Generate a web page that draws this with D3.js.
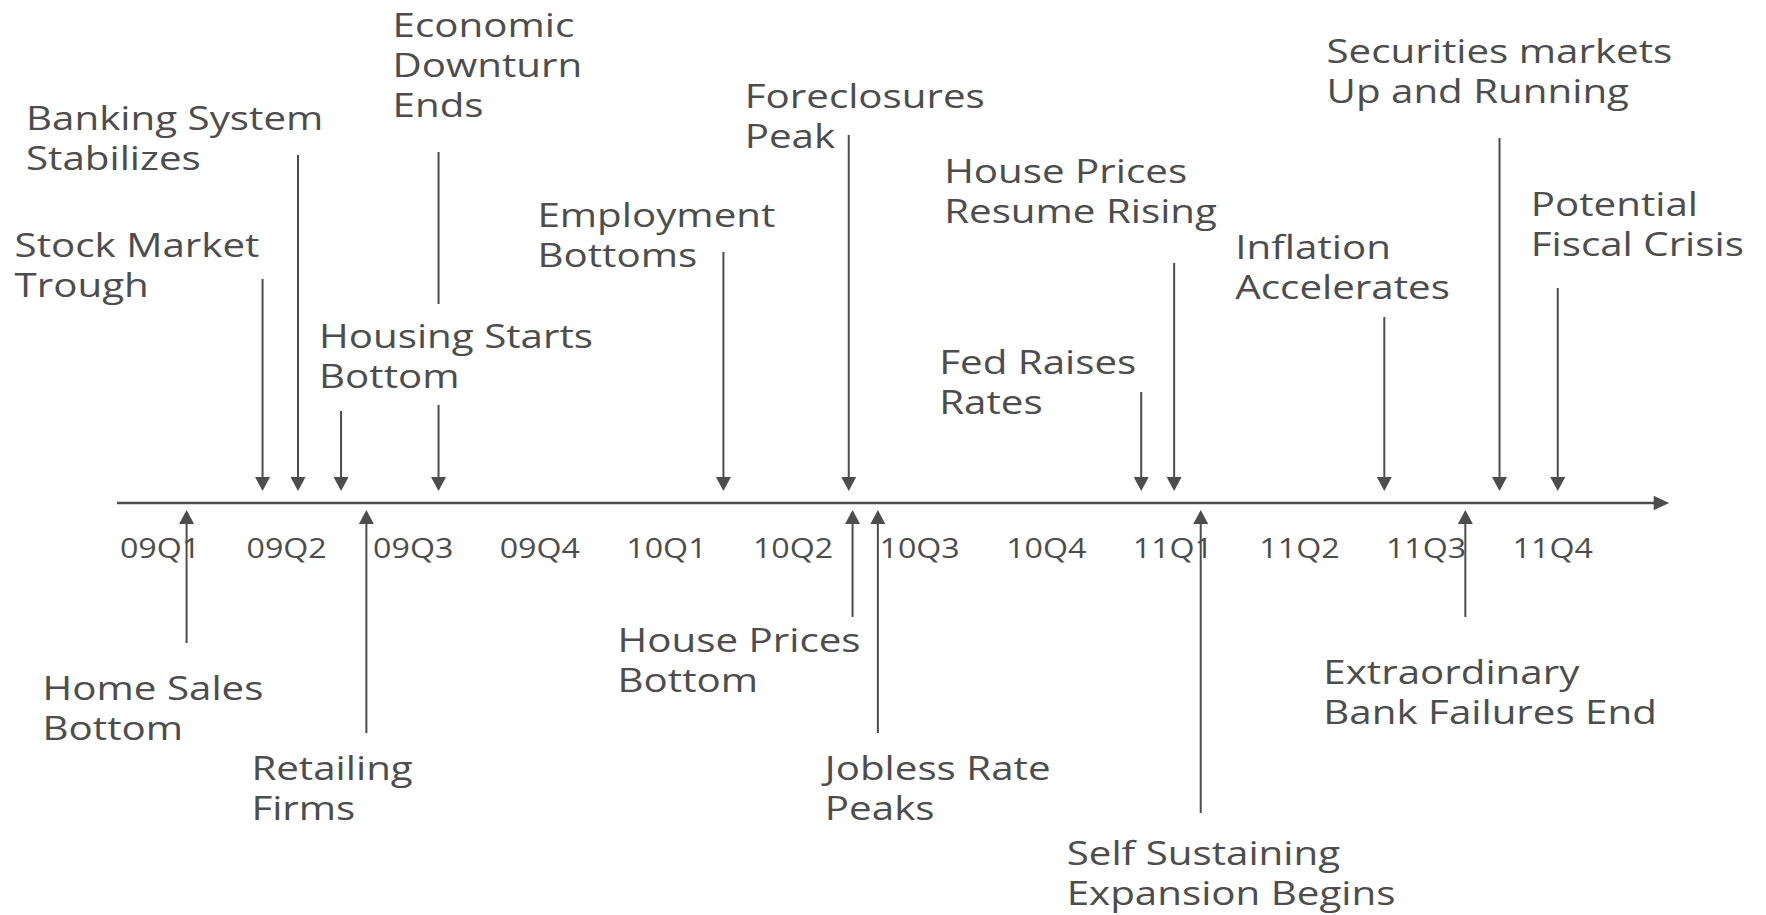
<!DOCTYPE html>
<html>
<head>
<meta charset="utf-8">
<script src="https://cdn.jsdelivr.net/npm/d3@7"></script>
<style>
  html, body { margin: 0; padding: 0; background: #fff; }
  svg { display: block; }
  text { font-family: "Open Sans", sans-serif; fill: #4d4d4d; }
</style>
</head>
<body>
<div id="timeline"></div>
<script>
// quarters on the timeline
const quarters = ["09Q1", "09Q2", "09Q3", "09Q4", "10Q1", "10Q2",
                  "10Q3", "10Q4", "11Q1", "11Q2", "11Q3", "11Q4"];

// milestones (time = quarters elapsed since the start of 2009)
const eventNames = [
  "Stock Market\nTrough",
  "Banking System\nStabilizes",
  "Housing Starts\nBottom",
  "Economic\nDownturn\nEnds",
  "Employment\nBottoms",
  "Foreclosures\nPeak",
  "House Prices\nResume Rising",
  "Fed Raises\nRates",
  "Inflation\nAccelerates",
  "Securities markets\nUp and Running",
  "Potential\nFiscal Crisis",
  "Home Sales\nBottom",
  "Retailing\nFirms",
  "House Prices\nBottom",
  "Jobless Rate\nPeaks",
  "Self Sustaining\nExpansion Begins",
  "Extraordinary\nBank Failures End"
];
const eventTimes = [1.31, 1.59, 1.93, 2.70, 4.95, 5.94, 8.51, 8.25, 10.17, 11.08, 11.54,
                    0.71, 2.13, 5.97, 6.17, 8.72, 10.81];
const eventSides = ["above", "above", "above", "above", "above", "above", "above", "above", "above", "above", "above",
                    "below", "below", "below", "below", "below", "below"];

// callout layout: arrow length off the axis, label offset from the arrow tail
const calloutLen = [224, 348, 92, 351, 251, 368, 240, 111, 186, 365, 215, 140, 230, 114, 230, 310, 114];
const labelDx = [-248, -272, -22, -46, -186, -104, -230, -202, -149, -173, -27, -144, -115, -235, -53, -134, -142];
const labelDy = [-22, -25, -63, -115, -25, -27, -80, -18, -58, -75, -72, 57, 47, 35, 47, 52, 67];
// labels that sit on a white box (it hides the arrow behind)
const boxedLabels = ["Housing Starts\nBottom"];

const width = 1766, height = 915;
const axisY = 503;
const ink = "#4d4d4d";
const lineGap = 40;
const stretch = 1.26;

const svg = d3.select("#timeline")
  .append("svg")
  .attr("width", width)
  .attr("height", height);

const x = d3.scaleLinear().domain([0, 12]).range([96.7, 1616]);
const band = d3.scaleBand().domain(quarters).range(x.range());

// timeline axis with arrow
const axisStart = 0.16, axisEnd = 12.42;
const tip = x(axisEnd);
svg.append("line")
  .attr("x1", x(axisStart)).attr("x2", tip - 14)
  .attr("y1", axisY).attr("y2", axisY)
  .attr("stroke", ink).attr("stroke-width", 2.5);
svg.append("path")
  .attr("d", `M${tip},${axisY}L${tip - 15.5},${axisY - 7.2}L${tip - 15.5},${axisY + 7.2}Z`)
  .attr("fill", ink);

const axisG = svg.append("g")
  .attr("transform", `translate(0,${axisY})`)
  .call(d3.axisBottom(band).tickSize(0));
axisG.select(".domain").remove();
axisG.selectAll("text")
  .attr("y", 55)
  .attr("dy", null)
  .attr("transform", "scale(1.15,1)")
  .style("font-size", "28px");

const events = eventNames.map((name, i) => ({
  name: name,
  t: eventTimes[i],
  side: eventSides[i],
  len: calloutLen[i],
  dx: labelDx[i],
  dy: labelDy[i]
}));

// arrows
const headLen = 14, headHalf = 7.5;
events.forEach(d => {
  const ax = x(d.t);
  const dir = d.side === "above" ? -1 : 1;
  const tailY = axisY + dir * d.len;
  const tipY = d.side === "above" ? axisY - 12 : axisY + 7;
  const baseY = tipY + dir * headLen;
  svg.append("line")
    .attr("x1", ax).attr("x2", ax)
    .attr("y1", tailY).attr("y2", baseY)
    .attr("stroke", ink).attr("stroke-width", 2);
  svg.append("path")
    .attr("d", `M${ax},${tipY}L${ax - headHalf},${baseY}L${ax + headHalf},${baseY}Z`)
    .attr("fill", ink);
});

// labels
events.forEach(d => {
  const ax = x(d.t);
  const dir = d.side === "above" ? -1 : 1;
  const tailY = axisY + dir * d.len;
  const g = svg.append("g")
    .attr("transform", `translate(${ax + d.dx},${tailY + d.dy}) scale(${stretch},1)`);
  const txt = g.append("text").style("font-size", "32px");
  d.name.split("\n").forEach((line, j) => {
    txt.append("tspan").attr("x", 0).attr("y", j * lineGap).text(line);
  });
  if (boxedLabels.includes(d.name)) {
    const bb = txt.node().getBBox();
    g.insert("rect", "text")
      .attr("x", bb.x - 3).attr("y", -44)
      .attr("width", bb.width + 6).attr("height", 101)
      .attr("fill", "#fff");
  }
});
</script>
</body>
</html>
